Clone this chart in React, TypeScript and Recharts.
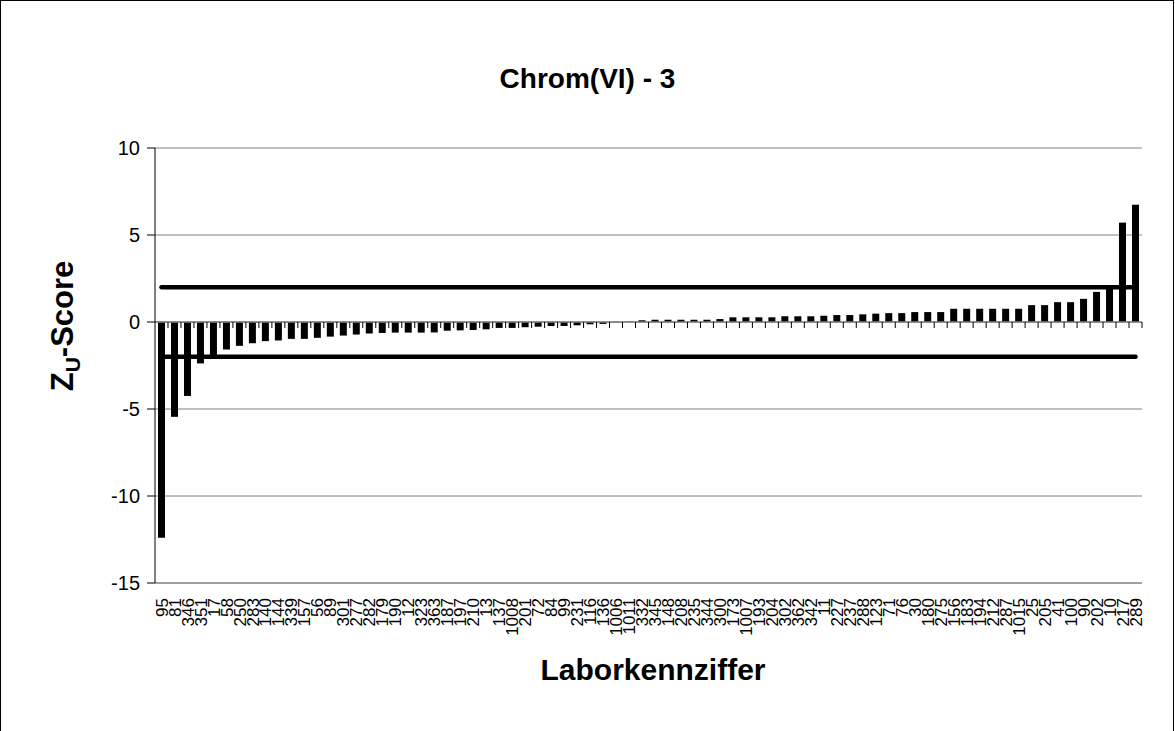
import React from 'react';
import { ComposedChart, Bar, XAxis, YAxis, CartesianGrid, ReferenceLine } from 'recharts';

// Laborkennziffern, sorted by score
const labs = [
  '95', '81', '346', '351', '17', '58', '250', '283', '140', '144',
  '339', '157', '56', '89', '301', '277', '282', '179', '190', '12',
  '323', '363', '187', '197', '210', '13', '137', '1008', '201', '72',
  '84', '99', '231', '116', '136', '1006', '1011', '332', '345', '148',
  '208', '235', '344', '300', '173', '1007', '193', '204', '302', '362',
  '342', '11', '227', '237', '288', '123', '71', '76', '30', '180',
  '275', '156', '183', '194', '212', '287', '1015', '25', '205', '41',
  '100', '90', '202', '10', '217', '289',
];

const zScores = [
  -12.4, -5.45, -4.25, -2.38, -2.1, -1.58, -1.37, -1.22, -1.1, -1.06,
  -0.97, -0.97, -0.91, -0.84, -0.78, -0.72, -0.66, -0.63, -0.61, -0.61,
  -0.61, -0.6, -0.5, -0.48, -0.46, -0.42, -0.34, -0.34, -0.3, -0.27,
  -0.23, -0.23, -0.19, -0.13, -0.11, -0.02, 0.02, 0.1, 0.13, 0.13,
  0.13, 0.13, 0.13, 0.17, 0.27, 0.27, 0.27, 0.27, 0.33, 0.33,
  0.33, 0.36, 0.4, 0.4, 0.44, 0.48, 0.51, 0.51, 0.57, 0.57,
  0.57, 0.76, 0.76, 0.76, 0.76, 0.76, 0.76, 0.97, 0.97, 1.14,
  1.14, 1.33, 1.73, 1.95, 5.71, 6.74,
];

const yTicks = [-15, -10, -5, 0, 5, 10];
const limits = [2, -2];

const chartData = labs.map((lab, i) => ({ lab, z: zScores[i] }));

const FONT = '"Liberation Sans", Arial, sans-serif';

const LabTick = ({ x, y, payload }: any) => (
  <text
    x={x}
    y={y}
    transform={`rotate(-90 ${x} ${y})`}
    textAnchor="end"
    dy="0.36em"
    fontSize={17}
    fontFamily={FONT}
    fill="#000"
  >
    {payload.value}
  </text>
);

// category axis sits at zero, tick marks between the bars
const ZeroAxis = (props: any) => {
  const { x1, x2, y1 } = props;
  const step = (x2 - x1) / labs.length;
  return (
    <g>
      <line x1={x1} x2={x2} y1={y1} y2={y1} stroke="#808080" strokeWidth={1.5} />
      {labs.map((_, i) => (
        <line key={i} x1={x1 + (i + 1) * step} x2={x1 + (i + 1) * step} y1={y1} y2={y1 + 6} stroke="#000" />
      ))}
    </g>
  );
};

export default function App() {
  return (
    <div style={{ position: 'absolute', left: 0, top: 0, width: 1175, height: 731, overflow: 'hidden', fontFamily: FONT, background: '#fff' }}>
      <div style={{ position: 'absolute', left: 0, top: 0, width: 1172, height: 760, border: '1px solid #000' }} />
      <div style={{ position: 'absolute', left: 0, top: 0 }}>
        <ComposedChart width={1175} height={731} data={chartData} margin={{ top: 148, right: 33, bottom: 0, left: 0 }}>
          <CartesianGrid vertical={false} stroke="#808080" />
          <XAxis
            dataKey="lab"
            interval={0}
            height={148}
            tickSize={0}
            tickMargin={15}
            tick={<LabTick />}
            axisLine={{ stroke: '#808080' }}
          />
          <YAxis
            domain={[-15, 10]}
            ticks={yTicks}
            width={155}
            tickSize={8}
            tickMargin={7}
            interval={0}
            axisLine={{ stroke: '#000' }}
            tickLine={{ stroke: '#000' }}
            tick={{ fill: '#000', fontSize: 20, fontFamily: FONT }}
          />
          <YAxis yAxisId="r" orientation="right" width={0} tick={false} tickLine={false} axisLine={{ stroke: '#808080' }} />
          <ReferenceLine y={0} shape={ZeroAxis} />
          <Bar dataKey="z" fill="#000" barSize={7} isAnimationActive={false} />
          {limits.map((v) => (
            <ReferenceLine
              key={v}
              segment={[{ x: labs[0], y: v }, { x: labs[labs.length - 1], y: v }]}
              stroke="#000"
              strokeWidth={4.5}
              strokeLinecap="round"
            />
          ))}
        </ComposedChart>
      </div>
      <div style={{ position: 'absolute', left: 0, top: 63, width: 1175, textAlign: 'center', fontSize: 28, fontWeight: 'bold', lineHeight: '32px' }}>
        Chrom(VI) - 3
      </div>
      <div style={{ position: 'absolute', left: 453, top: 653, width: 400, textAlign: 'center', fontSize: 30, fontWeight: 'bold', lineHeight: '34px' }}>
        Laborkennziffer
      </div>
      <div
        style={{
          position: 'absolute',
          left: 63,
          top: 326,
          transform: 'translate(-50%, -50%) rotate(-90deg)',
          whiteSpace: 'nowrap',
          fontSize: 31,
          fontWeight: 'bold',
          lineHeight: '34px',
        }}
      >
        Z<sub style={{ fontSize: 21, verticalAlign: '-7px', lineHeight: 0 }}>U</sub>-Score
      </div>
    </div>
  );
}
